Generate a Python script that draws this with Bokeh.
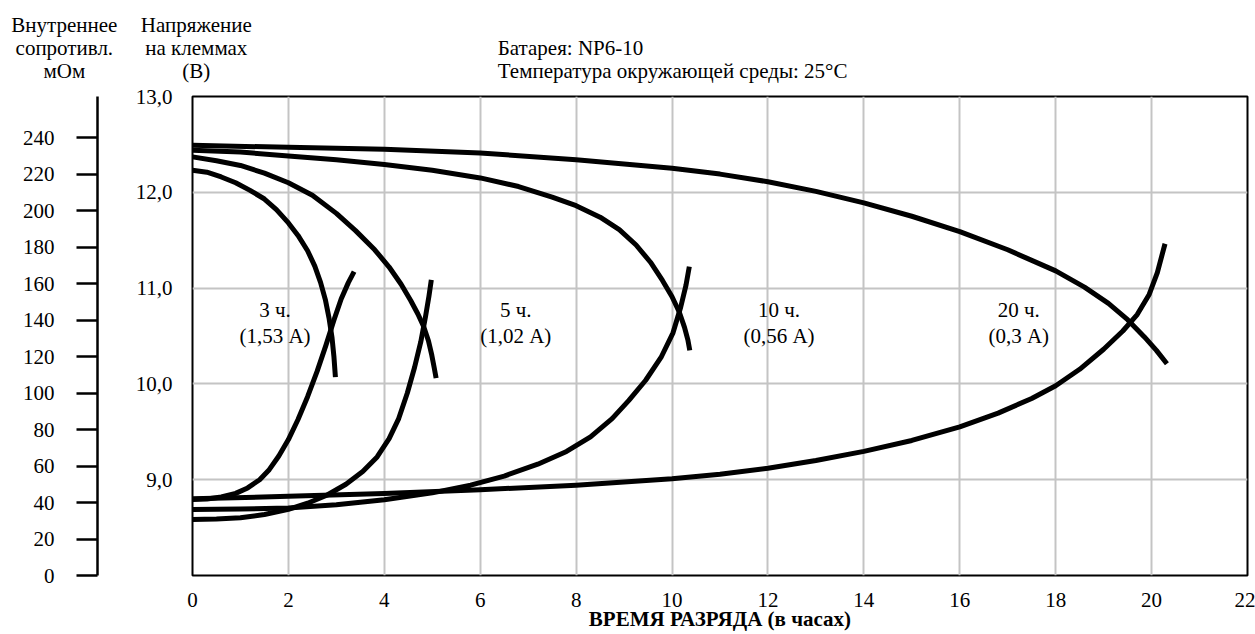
from bokeh.plotting import figure
from bokeh.layouts import column
from bokeh.models import Range1d, LinearAxis, FixedTicker, Label
from bokeh.core.properties import value
from bokeh.embed import file_html
from bokeh.resources import INLINE

FONT = "Liberation Serif"
FS = "21px"

# ---- data -------------------------------------------------------------
X_TICKS = [0, 2, 4, 6, 8, 10, 12, 14, 16, 18, 20, 22]
VOLT_TICKS = [9, 10, 11, 12, 13]
VOLT_TICK_LABELS = ["9,0", "10,0", "11,0", "12,0", "13,0"]
RES_TICKS = [0, 20, 40, 60, 80, 100, 120, 140, 160, 180, 200, 220, 240]

# terminal voltage (V) vs discharge time (h)
T_3H_V = [0, 0.3, 0.6, 0.9, 1.2, 1.5, 1.75, 2.0, 2.2, 2.4, 2.55, 2.67, 2.77, 2.85, 2.91, 2.95, 2.98]
V_3H = [12.23, 12.21, 12.16, 12.10, 12.02, 11.93, 11.82, 11.68, 11.55, 11.39, 11.23, 11.06, 10.88, 10.68, 10.48, 10.28, 10.07]

T_5H_V = [0, 0.5, 1.0, 1.5, 2.0, 2.5, 3.0, 3.4, 3.8, 4.1, 4.35, 4.55, 4.7, 4.82, 4.92, 4.99, 5.04, 5.08]
V_5H = [12.37, 12.33, 12.28, 12.20, 12.10, 11.97, 11.78, 11.60, 11.40, 11.22, 11.04, 10.87, 10.73, 10.60, 10.45, 10.30, 10.17, 10.06]

T_10H_V = [0, 1, 2, 3, 4, 5, 6, 6.8, 7.5, 8.0, 8.5, 8.9, 9.25, 9.55, 9.8, 10.0, 10.15, 10.26, 10.33, 10.37]
V_10H = [12.44, 12.42, 12.38, 12.34, 12.29, 12.23, 12.15, 12.06, 11.95, 11.86, 11.74, 11.61, 11.45, 11.27, 11.08, 10.91, 10.75, 10.59, 10.46, 10.35]

T_20H_V = [0, 2, 4, 6, 8, 10, 11, 12, 13, 14, 15, 16, 17, 18, 18.6, 19.1, 19.5, 19.85, 20.1, 20.32]
V_20H = [12.49, 12.47, 12.45, 12.41, 12.34, 12.25, 12.19, 12.11, 12.01, 11.89, 11.75, 11.59, 11.40, 11.18, 11.01, 10.84, 10.67, 10.49, 10.35, 10.21]

# internal resistance (mOhm) vs discharge time (h)
T_3H_R = [0, 0.3, 0.6, 0.9, 1.15, 1.4, 1.6, 1.8, 2.0, 2.2, 2.4, 2.6, 2.78, 2.95, 3.1, 3.25, 3.37]
R_3H = [41.6, 41.9, 43.0, 45.0, 48.0, 52.5, 58.0, 65.5, 74.5, 85.5, 98, 112, 126, 140, 151.5, 160.5, 166.5]

T_5H_R = [0, 0.5, 1.0, 1.5, 2.0, 2.4, 2.8, 3.2, 3.55, 3.85, 4.1, 4.3, 4.48, 4.63, 4.76, 4.86, 4.93, 4.98]
R_5H = [30.7, 30.9, 31.6, 33.4, 36.3, 39.6, 44.0, 50.0, 57.0, 65.0, 75.0, 86.0, 100, 114, 128, 142, 153, 162]

T_10H_R = [0, 1, 2, 3, 4, 5, 5.8, 6.5, 7.2, 7.8, 8.3, 8.75, 9.1, 9.45, 9.78, 10.02, 10.18, 10.29, 10.36]
R_10H = [36.2, 36.4, 37.0, 38.8, 41.5, 45.3, 49.5, 54.5, 61, 68, 76, 86, 96, 107, 120, 133, 147, 159, 169.3]

T_20H_R = [0, 2, 4, 6, 8, 10, 11, 12, 13, 14, 15, 16, 16.8, 17.5, 18, 18.5, 19, 19.4, 19.7, 19.95, 20.12, 20.28]
R_20H = [42, 43.4, 45, 47, 49.5, 53, 55.5, 58.8, 63, 68, 74, 81.5, 89, 97, 104, 113, 124, 134, 143, 154, 166, 181.8]

CURVE_LABELS = [("3 ч.", "(1,53 А)", 1.72), ("5 ч.", "(1,02 А)", 6.74),
                ("10 ч.", "(0,56 А)", 12.23), ("20 ч.", "(0,3 А)", 17.23)]

# header block: scale captions and battery info (x in hours, y = text row)
HEAD_CENTER_TEXT = ["Внутреннее", "сопротивл.", "мОм", "Напряжение", "на клеммах", "(В)"]
HEAD_CENTER_X = [-2.67, -2.67, -2.67, 0.08, 0.08, 0.08]
HEAD_CENTER_ROW = [0, 1, 2, 0, 1, 2]
HEAD_LEFT_TEXT = ["Батарея: NP6-10", "Температура окружающей среды: 25°C"]
HEAD_LEFT_X = [6.36, 6.36]
HEAD_LEFT_ROW = [1, 2]
ROW_BASELINE = [24, 47, 70]

HEAD_H = 84
TOTAL_W, TOTAL_H = 1255, 634

# ---- header strip -----------------------------------------------------
head = figure(width=TOTAL_W, height=HEAD_H, output_backend="svg", toolbar_location=None,
              x_range=Range1d(-4.0, 22.146), y_range=Range1d(HEAD_H, 0),
              min_border=0, min_border_left=0, min_border_right=0,
              min_border_top=0, min_border_bottom=0)
head.title_location = None
if "frame_align" in head.properties():
    head.frame_align = False
head.axis.visible = False
head.grid.visible = False
head.outline_line_color = None
head.background_fill_color = "white"
head.border_fill_color = "white"

txt_kw = dict(text_font=value(FONT), text_font_size=FS, text_color="black",
              text_baseline="alphabetic")
head.text(x=HEAD_CENTER_X, y=[ROW_BASELINE[r] for r in HEAD_CENTER_ROW],
          text=HEAD_CENTER_TEXT, text_align="center", **txt_kw)
head.text(x=HEAD_LEFT_X, y=[ROW_BASELINE[r] for r in HEAD_LEFT_ROW],
          text=HEAD_LEFT_TEXT, text_align="left", **txt_kw)

# ---- main chart -------------------------------------------------------
p = figure(width=TOTAL_W, height=TOTAL_H - HEAD_H, output_backend="svg", toolbar_location=None,
           x_range=Range1d(0, 22), y_range=Range1d(8, 13),
           min_border_left=192, min_border_right=8, min_border_top=96 - HEAD_H,
           min_border_bottom=59)
p.title_location = None
if "frame_align" in p.properties():
    p.frame_align = False
p.extra_y_ranges = {"res": Range1d(0, 262.5)}
p.background_fill_color = "white"
p.border_fill_color = "white"
p.outline_line_color = "black"
p.outline_line_width = 2

p.xgrid.ticker = FixedTicker(ticks=X_TICKS)
p.ygrid.ticker = FixedTicker(ticks=VOLT_TICKS[:-1])
for g in (p.xgrid, p.ygrid):
    g.grid_line_color = "#c4c4c4"
    g.grid_line_width = 2

xa = p.xaxis[0]
xa.ticker = FixedTicker(ticks=X_TICKS)
xa.axis_line_color = None
xa.major_tick_line_color = None
xa.minor_tick_line_color = None
xa.major_tick_out = 0
xa.major_tick_in = 0
xa.major_label_standoff = 17
xa.major_label_text_font = FONT
xa.major_label_text_font_size = FS
xa.major_label_text_line_height = 1.0
xa.major_label_text_color = "black"
xa.axis_label = "ВРЕМЯ РАЗРЯДА (в часах)"
xa.axis_label_standoff = -3
xa.axis_label_text_font = FONT
xa.axis_label_text_font_size = FS
xa.axis_label_text_line_height = 1.0
xa.axis_label_text_font_style = "bold"
xa.axis_label_text_color = "black"

ya = p.yaxis[0]
ya.ticker = FixedTicker(ticks=VOLT_TICKS)
ya.major_label_overrides = dict(zip(VOLT_TICKS, VOLT_TICK_LABELS))
ya.axis_line_color = None
ya.major_tick_line_color = None
ya.minor_tick_line_color = None
ya.major_tick_out = 0
ya.major_tick_in = 0
ya.major_label_standoff = 20
ya.major_label_text_font = FONT
ya.major_label_text_font_size = FS
ya.major_label_text_color = "black"
ya.axis_label = " "
ya.axis_label_standoff = 0
ya.axis_label_text_font_size = "29px"

ra = LinearAxis(y_range_name="res", ticker=FixedTicker(ticks=RES_TICKS))
ra.axis_line_color = "black"
ra.axis_line_width = 2.5
ra.major_tick_line_color = "black"
ra.major_tick_line_width = 2.5
ra.major_tick_out = 21
ra.major_tick_in = 0
ra.minor_tick_line_color = None
ra.major_label_standoff = 22
ra.major_label_text_font = FONT
ra.major_label_text_font_size = FS
ra.major_label_text_color = "black"
p.add_layout(ra, "left")

line_kw = dict(line_color="black", line_width=5, line_join="round")
for t, v in ((T_3H_V, V_3H), (T_5H_V, V_5H), (T_10H_V, V_10H), (T_20H_V, V_20H)):
    p.line(t, v, **line_kw)
for t, r in ((T_3H_R, R_3H), (T_5H_R, R_5H), (T_10H_R, R_10H), (T_20H_R, R_20H)):
    p.line(t, r, y_range_name="res", **line_kw)

for top, bottom, x in CURVE_LABELS:
    for s, y in ((top, 10.77), (bottom, 10.50)):
        p.add_layout(Label(x=x, y=y, text=s, text_align="center", text_baseline="middle",
                           text_font=FONT, text_font_size=FS, text_color="black"))

page = column(head, p, spacing=0)
open("out.html", "w").write(file_html(page, INLINE))
